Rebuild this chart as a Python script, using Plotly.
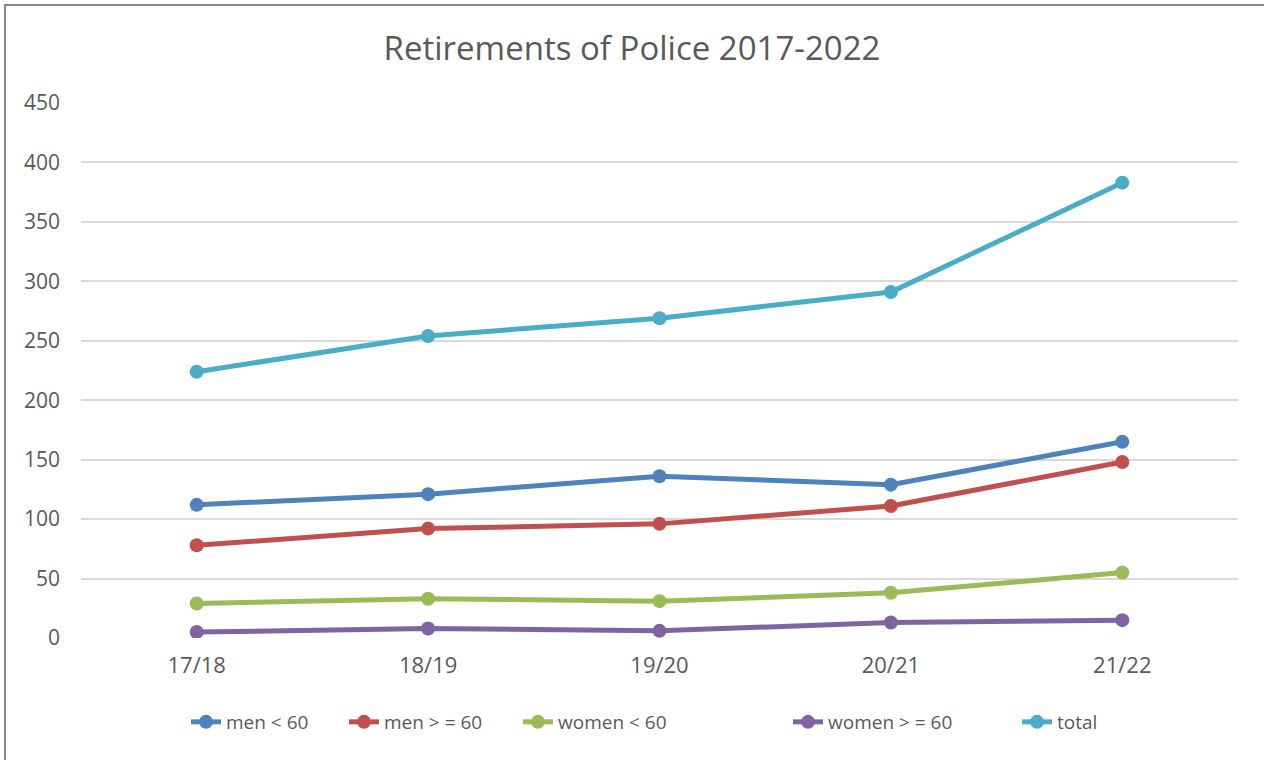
import plotly.graph_objects as go

categories = ["17/18", "18/19", "19/20", "20/21", "21/22"]
men_lt60 = [112, 121, 136, 129, 165]
men_ge60 = [78, 92, 96, 111, 148]
women_lt60 = [29, 33, 31, 38, 55]
women_ge60 = [5, 8, 6, 13, 15]
total = [224, 254, 269, 291, 383]

series = [
    ("men < 60", men_lt60, "#4F81BD"),
    ("men > = 60", men_ge60, "#C0504D"),
    ("women < 60", women_lt60, "#9BBB59"),
    ("women > = 60", women_ge60, "#8064A2"),
    ("total", total, "#4BACC6"),
]
# pixel x where each legend entry's text begins in the reference
legend_text_px = [226, 384, 558, 828, 1057]

FONT = "Open Sans"
TXT = "#595959"

L, R, T, B = 81, 26, 103, 122
W, H = 1264, 760
pw = W - L - R
ph = H - T - B

fig = go.Figure()
legends = {}
for i, (name, vals, col) in enumerate(series):
    lname = "legend" if i == 0 else f"legend{i + 1}"
    fig.add_trace(go.Scatter(
        x=categories, y=vals, name=name, mode="lines+markers",
        line=dict(color=col, width=5),
        marker=dict(color=col, size=14),
        legend=lname,
    ))
    legends[lname] = dict(
        orientation="h", x=(legend_text_px[i] - 40 - L) / pw, xanchor="left",
        y=(638 - 722) / ph, yanchor="middle",
        font=dict(family=FONT, size=19, color=TXT),
        bgcolor="rgba(0,0,0,0)", borderwidth=0,
    )

fig.update_layout(
    width=W, height=H,
    margin=dict(l=L, r=R, t=T, b=B),
    paper_bgcolor="white", plot_bgcolor="white",
    font=dict(family=FONT, color=TXT, size=21),
    title=dict(text="Retirements of Police 2017-2022", x=0.5, xanchor="center",
               y=1 - 48 / H, yanchor="middle",
               font=dict(family=FONT, size=33, color=TXT)),
    showlegend=True,
    xaxis=dict(type="category", range=[-0.5, 4.5], showgrid=False,
               showline=False, zeroline=False, ticks="",
               tickfont=dict(family=FONT, size=22, color=TXT),
               ticklabelstandoff=12),
    yaxis=dict(range=[0, 450], dtick=50, showgrid=True, gridcolor="#D9D9D9",
               gridwidth=1.5, zeroline=False, showline=False, ticks="",
               tickfont=dict(family=FONT, size=21, color=TXT),
               ticklabelstandoff=20),
    shapes=[dict(type="rect", xref="paper", yref="paper",
                 x0=(5 - L) / pw, x1=1.2, y0=-0.4, y1=(638 - 5) / ph,
                 line=dict(color="#878787", width=2), layer="below")],
    **legends,
)

fig.write_html("out.html", config={"displayModeBar": False},
               post_script="document.body.style.margin='0';document.body.style.overflow='hidden';")
